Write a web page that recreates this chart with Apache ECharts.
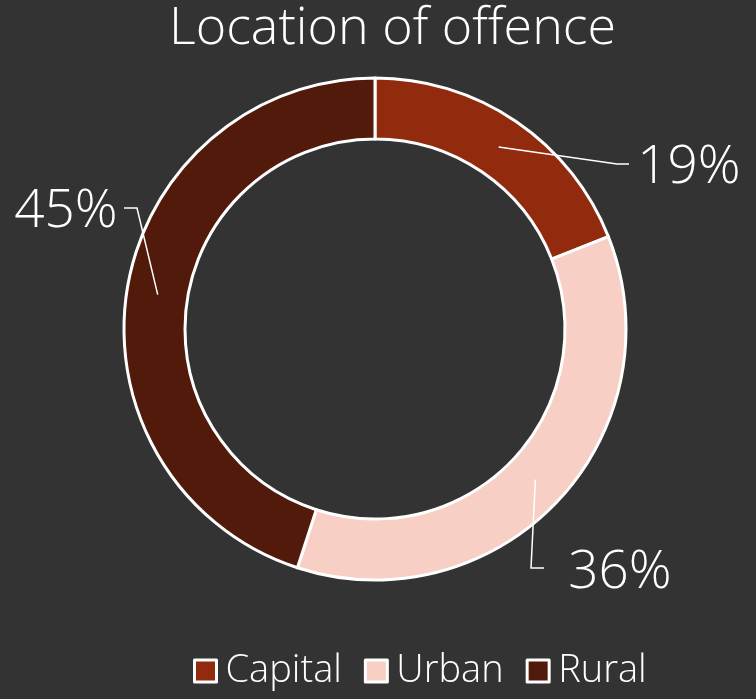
<!DOCTYPE html>
<html>
<head>
<meta charset="utf-8">
<title>Location of offence</title>
<script src="https://cdn.jsdelivr.net/npm/echarts@6/dist/echarts.min.js"></script>
<style>
  html, body { margin: 0; padding: 0; background: #333333; }
  #chart { width: 756px; height: 699px; }
</style>
</head>
<body>
<div id="chart"></div>
<script>
const categories = ['Capital', 'Urban', 'Rural'];
const shares = [19, 36, 45];
const colors = ['#922A0E', '#F8CFC4', '#521A0B'];
// label placement and the bend / end of each leader line
const labelSpots = [[689, 168], [620, 573], [66, 212]];
const lineBends = [[[617, 164], [629, 164]], [[531, 568], [544, 568]], [[137, 208], [124, 208]]];

const CX = 375, CY = 329, LINE_START_R = 220;

const chart = echarts.init(document.getElementById('chart'));

const pieData = categories.map((c, i) => ({
    name: c,
    value: shares[i],
    itemStyle: { color: colors[i] }
}));

chart.setOption({
    backgroundColor: '#333333',
    title: {
        text: 'Location of offence',
        left: 164,
        top: -2,
        textStyle: { color: '#ffffff', fontSize: 52, fontWeight: 300, fontFamily: 'Open Sans' }
    },
    legend: {
        bottom: 4,
        left: 188,
        itemWidth: 22,
        itemHeight: 22,
        itemGap: 22,
        icon: 'rect',
        itemStyle: { borderColor: '#ffffff', borderWidth: 3 },
        textStyle: { color: '#ffffff', fontSize: 38, fontFamily: 'Open Sans', fontWeight: 300, padding: [0, 0, 0, 4] },
        data: categories
    },
    series: [{
        // the ring itself
        type: 'pie',
        z: 2,
        center: [CX, CY],
        radius: [190, 251],
        startAngle: 90,
        clockwise: true,
        itemStyle: { borderColor: '#ffffff', borderWidth: 3 },
        label: { show: false },
        labelLine: { show: false },
        emphasis: { disabled: true },
        data: pieData
    }, {
        // transparent copy on top, carries labels and leader lines
        type: 'pie',
        z: 3,
        silent: true,
        center: [CX, CY],
        radius: [190, 251],
        startAngle: 90,
        clockwise: true,
        avoidLabelOverlap: false,
        itemStyle: { color: 'rgba(0,0,0,0)', borderWidth: 0 },
        label: {
            color: '#ffffff',
            fontSize: 53,
            fontFamily: 'Open Sans',
            fontWeight: 300,
            formatter: '{c}%'
        },
        labelLine: {
            show: true,
            lineStyle: { color: '#ffffff', width: 1.5 }
        },
        labelLayout: function (p) {
            const i = p.dataIndex;
            const s = labelSpots[i];
            // pull the line's start from the outer edge into the ring
            const edge = p.labelLinePoints ? p.labelLinePoints[0] : [CX, CY];
            const dx = edge[0] - CX, dy = edge[1] - CY;
            const d = Math.sqrt(dx * dx + dy * dy) || 1;
            const start = [CX + dx / d * LINE_START_R, CY + dy / d * LINE_START_R];
            return {
                x: s[0], y: s[1], align: 'center', verticalAlign: 'middle',
                labelLinePoints: [start, lineBends[i][0], lineBends[i][1]]
            };
        },
        emphasis: { disabled: true },
        data: categories.map((c, i) => ({ name: c, value: shares[i] }))
    }]
});
</script>
</body>
</html>
